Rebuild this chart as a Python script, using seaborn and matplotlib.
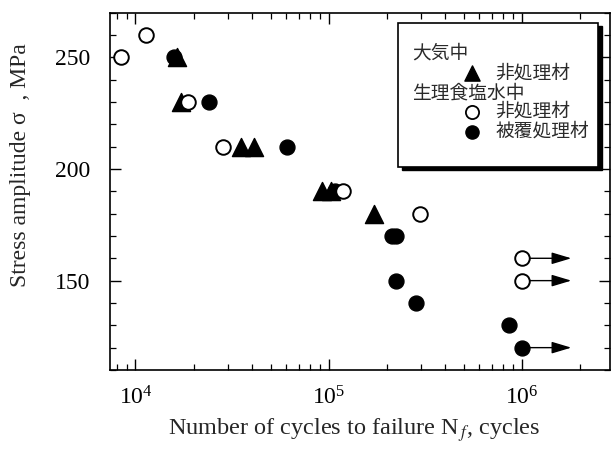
import numpy as np
import pandas as pd
import matplotlib
matplotlib.use("Agg")
import matplotlib.pyplot as plt
import seaborn as sns
from matplotlib.ticker import LogLocator, MultipleLocator, FixedLocator, LogFormatterMathtext
from matplotlib.patches import Rectangle

# ---- data ----
air_untreated_N = [16500, 17200, 35000, 41000, 92000, 103000, 172000]
air_untreated_S = [250, 230, 210, 210, 190, 190, 180]

saline_untreated_N = [8400, 11400, 18700, 28400, 118000, 297000, 1000000, 1000000]
saline_untreated_S = [250, 260, 230, 210, 190, 180, 160, 150]

saline_coated_N = [15900, 24000, 61000, 108000, 212000, 222000, 223000, 284000, 860000, 1000000]
saline_coated_S = [250, 230, 210, 190, 170, 170, 150, 140, 130, 120]

runout_N = [1000000, 1000000, 1000000]
runout_S = [160, 150, 120]
runout_end_N = 1.8e6

legend_head1 = "大気中"
legend_head2 = "生理食塩水中"
label_untreated = "非処理材"
label_coated = "被覆処理材"

# ---- style ----
sns.set_theme(style="ticks")
plt.rcParams['font.family'] = ['Liberation Serif', 'DejaVu Serif']
plt.rcParams['mathtext.fontset'] = 'stix'

fig = plt.figure(figsize=(6.12, 4.49), dpi=100)
ax = fig.add_axes([0.180, 0.176, 0.817, 0.796])

df_air = pd.DataFrame({"N": air_untreated_N, "S": air_untreated_S})
df_su = pd.DataFrame({"N": saline_untreated_N, "S": saline_untreated_S})
df_sc = pd.DataFrame({"N": saline_coated_N, "S": saline_coated_S})

# arrows for run-outs
for n, s in zip(runout_N, runout_S):
    ax.annotate("", xy=(runout_end_N, s), xytext=(n, s),
                arrowprops=dict(arrowstyle="-|>,head_length=1.0,head_width=0.3",
                                color="black", lw=1.0, shrinkA=0, shrinkB=0),
                zorder=1)

sns.scatterplot(data=df_sc, x="N", y="S", ax=ax, marker="o", s=115,
                color="black", edgecolor="black", linewidth=1.0, zorder=3)
sns.scatterplot(data=df_air, x="N", y="S", ax=ax, marker="^", s=170,
                color="black", edgecolor="black", linewidth=1.0, zorder=4)
sns.scatterplot(data=df_su, x="N", y="S", ax=ax, marker="o", s=110,
                facecolor="white", edgecolor="black", linewidth=1.4, zorder=5)

ax.set_xscale("log")
ax.set_xlim(7400, 2.86e6)
ax.set_ylim(110, 270)

ax.xaxis.set_major_locator(LogLocator(base=10, numticks=10))
ax.xaxis.set_minor_locator(LogLocator(base=10, subs=np.arange(2, 10), numticks=10))
ax.xaxis.set_major_formatter(LogFormatterMathtext())
ax.yaxis.set_major_locator(FixedLocator([150, 200, 250]))
ax.yaxis.set_minor_locator(MultipleLocator(10))

ax.tick_params(which="both", direction="in", top=True, right=True, colors="black",
               labelsize=17)
ax.tick_params(which="major", length=8, width=1.0)
ax.tick_params(which="minor", length=4, width=0.9)
ax.tick_params(axis="x", which="major", pad=12)
ax.tick_params(axis="y", which="major", pad=14)
for sp in ax.spines.values():
    sp.set_linewidth(1.2)
    sp.set_color("black")

ax.set_xlabel("Number of cycles to failure N$_{\\,f}$, cycles", fontsize=17.5)
ax.set_ylabel("Stress amplitude σ  , MPa", fontsize=17)
ax.xaxis.set_label_coords(0.488, -0.128)
ax.yaxis.set_label_coords(-0.158, 0.574)

# ---- legend box (drawn manually) ----
tr = ax.transAxes
bx0, by0, bw, bh = 0.576, 0.568, 0.400, 0.403
ax.add_patch(Rectangle((bx0 + 0.007, by0 - 0.009), bw, bh, transform=tr,
                       facecolor="black", edgecolor="black", zorder=6, clip_on=False))
ax.add_patch(Rectangle((bx0, by0), bw, bh, transform=tr,
                       facecolor="white", edgecolor="black", lw=1.2, zorder=7, clip_on=False))
cjk = ['Noto Sans CJK JP', 'DejaVu Sans']
tx_head = 0.604
tx_mark = 0.724
tx_lab = 0.770
rows = [0.886, 0.830, 0.774, 0.723, 0.667]
fs = 13.5
tc = "#2a2a2a"
ax.text(tx_head, rows[0], legend_head1, transform=tr, fontsize=fs, family=cjk,
        va="center", ha="left", zorder=8, color=tc)
ax.scatter([tx_mark], [rows[1]], transform=tr, marker="^", s=120, color="black", zorder=8)
ax.text(tx_lab, rows[1], label_untreated, transform=tr, fontsize=fs, family=cjk,
        va="center", ha="left", zorder=8, color=tc)
ax.text(tx_head, rows[2], legend_head2, transform=tr, fontsize=fs, family=cjk,
        va="center", ha="left", zorder=8, color=tc)
ax.scatter([tx_mark], [rows[3]], transform=tr, marker="o", s=90, facecolor="white",
           edgecolor="black", linewidth=1.3, zorder=8)
ax.text(tx_lab, rows[3], label_untreated, transform=tr, fontsize=fs, family=cjk,
        va="center", ha="left", zorder=8, color=tc)
ax.scatter([tx_mark], [rows[4]], transform=tr, marker="o", s=90, color="black", zorder=8)
ax.text(tx_lab, rows[4], label_coated, transform=tr, fontsize=fs, family=cjk,
        va="center", ha="left", zorder=8, color=tc)

fig.savefig("out.png", dpi=100)
